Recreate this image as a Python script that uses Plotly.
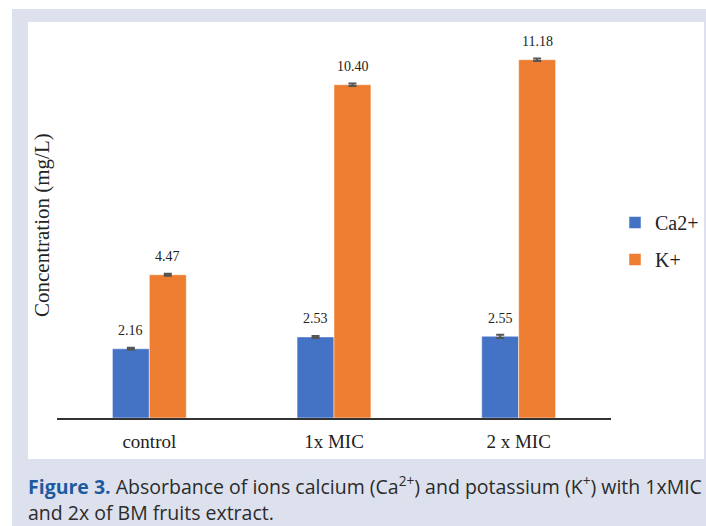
import plotly.graph_objects as go

categories = ["control", "1x MIC", "2 x MIC"]
ca_values = [2.16, 2.53, 2.55]
k_values = [4.47, 10.40, 11.18]
ca_err = [0.03, 0.03, 0.05]
k_err = [0.03, 0.04, 0.04]
series_names = ["Ca2+", "K+"]

W, H = 706, 526
BLUE = "#4472C4"
ORANGE = "#ED7D31"
SERIF = "Liberation Serif, Times New Roman, serif"


def fx(px):
    return px / W


def fy(py):
    return 1 - py / H


x0, x1 = 57, 611
y_bot, y_top = 418, 30
px_per_unit = 32.05
y_max = (y_bot - y_top) / px_per_unit

fig = go.Figure()
fig.add_trace(go.Bar(
    x=categories, y=ca_values, name=series_names[0], marker_color=BLUE,
    marker_line=dict(color="white", width=0.5), legendgroup="a",
    error_y=dict(type="data", array=ca_err, color="#555555", thickness=2, width=4),
))
fig.add_trace(go.Bar(
    x=categories, y=k_values, name=series_names[1], marker_color=ORANGE,
    marker_line=dict(color="white", width=0.5), legendgroup="b",
    error_y=dict(type="data", array=k_err, color="#555555", thickness=2, width=4),
))

annotations = []
bar_w = 37
for vals, shift in ((ca_values, -bar_w / 2), (k_values, bar_w / 2)):
    for c, v in zip(categories, vals):
        annotations.append(dict(
            x=c, y=v, xref="x", yref="y", text=f"{v:.2f}", showarrow=False,
            xshift=shift, yshift=18, font=dict(family=SERIF, size=14, color="#222222"),
        ))

annotations.append(dict(
    x=fx(26), y=fy(469), xref="paper", yref="paper", xanchor="left", yanchor="top",
    align="left", showarrow=False,
    text=("<span style='color:#1d5aa0'><b>Figure 3.</b></span> Absorbance of ions calcium (Ca<sup>2+</sup>) "
          "and potassium (K<sup>+</sup>) with 1xMIC<br>and 2x of BM fruits extract."),
    font=dict(family="Open Sans, sans-serif", size=19.5, color="#2b2b2b"),
))

annotations.append(dict(
    x=fx(42), y=fy(225), xref="paper", yref="paper", xanchor="center", yanchor="middle",
    text="Concentration (mg/L)", textangle=-90, showarrow=False,
    font=dict(family=SERIF, size=21, color="#222222")))

shapes = [
    dict(type="rect", xref="paper", yref="paper", x0=0, x1=1, y0=fy(9), y1=1,
         fillcolor="white", line_width=0, layer="below"),
    dict(type="rect", xref="paper", yref="paper", x0=0, x1=fx(12), y0=0, y1=1,
         fillcolor="white", line_width=0, layer="below"),
    dict(type="rect", xref="paper", yref="paper", x0=fx(28), x1=fx(704),
         y0=fy(459), y1=fy(22), fillcolor="white", line_width=0, layer="below"),
]

fig.update_layout(
    width=W, height=H, autosize=False,
    margin=dict(l=0, r=0, t=0, b=0),
    paper_bgcolor="#dde1ee", plot_bgcolor="rgba(0,0,0,0)",
    barmode="group", bargap=0.6, bargroupgap=0,
    showlegend=True,
    legend=dict(x=fx(615), y=fy(203), xanchor="left", yanchor="top",
                bgcolor="rgba(0,0,0,0)", font=dict(family=SERIF, size=20, color="#222222"),
                tracegroupgap=8, traceorder="grouped", itemwidth=30),
    xaxis=dict(domain=[fx(x0), fx(x1)], showline=True, linecolor="#333333", linewidth=1.5,
               ticks="", tickfont=dict(family=SERIF, size=19, color="#222222"),
               ticklabelstandoff=5, showgrid=False, fixedrange=True),
    yaxis=dict(domain=[fy(y_bot), fy(y_top)], range=[0, y_max], showgrid=False,
               showticklabels=False, showline=False, zeroline=False, ticks=""),
    annotations=annotations,
    shapes=shapes,
)

fig.write_html(
    "out.html",
    config={"displayModeBar": False},
    post_script="document.body.style.margin='0';document.body.style.overflow='hidden';",
)
